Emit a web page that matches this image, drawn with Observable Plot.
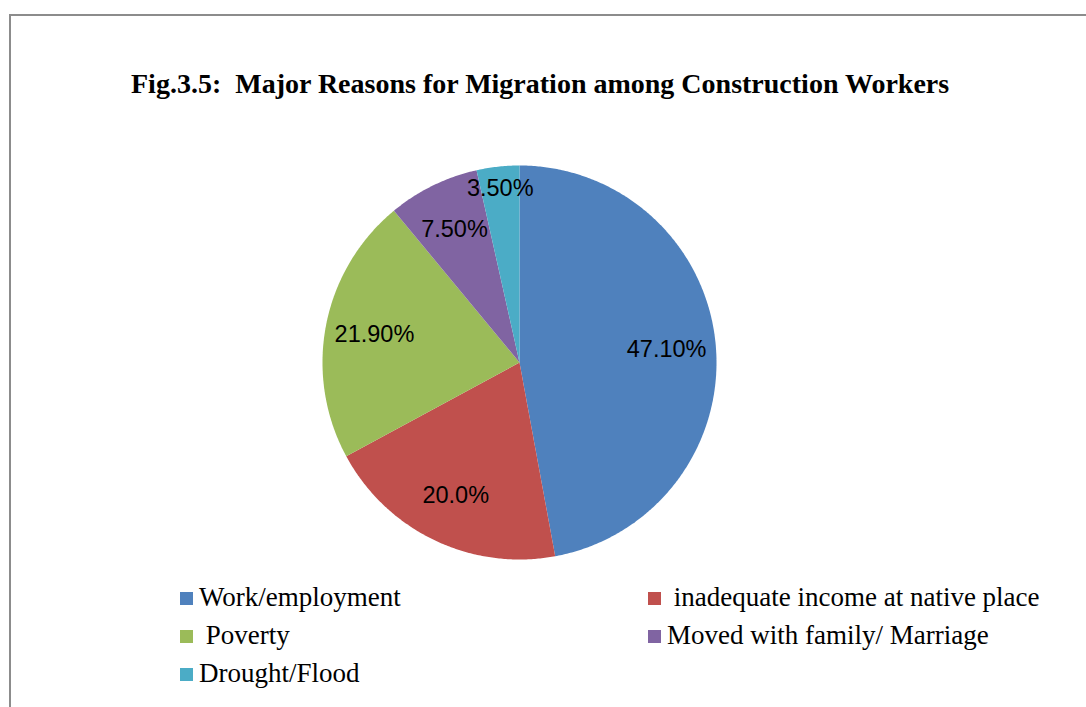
<!DOCTYPE html>
<html>
<head>
<meta charset="utf-8">
<script src="https://cdn.jsdelivr.net/npm/d3@7"></script>
<script src="https://cdn.jsdelivr.net/npm/@observablehq/plot@0.6"></script>
<style>
  html, body { margin: 0; padding: 0; background: #fff; overflow: hidden; width: 1086px; height: 707px; }
  #frame { position: absolute; left: 9px; top: 14px; width: 1200px; height: 900px; border: 2px solid #8c8c8c; box-sizing: border-box; }
  #title { position: absolute; left: 131px; top: 70px; font-family: "Liberation Serif", "Times New Roman", serif; font-weight: bold; font-size: 28px; line-height: 28px; white-space: pre; color: #000; }
  #chart { position: absolute; left: 0; top: 130px; }
  .leg { position: absolute; font-family: "Liberation Serif", "Times New Roman", serif; font-size: 27px; line-height: 27px; white-space: pre; color: #000; }
  .sw { position: absolute; width: 13px; height: 13px; }
</style>
</head>
<body>
<div id="frame"></div>
<div id="title">Fig.3.5:  Major Reasons for Migration among Construction Workers</div>
<div id="chart"></div>
<div id="legend"></div>
<script>
const categories = ["Work/employment", "inadequate income at native place", "Poverty", "Moved with family/ Marriage", "Drought/Flood"];
const legendLabels = ["Work/employment", " inadequate income at native place", " Poverty", "Moved with family/ Marriage", "Drought/Flood"];
const values = [47.1, 20.0, 21.9, 7.5, 3.5];
const valueLabels = ["47.10%", "20.0%", "21.90%", "7.50%", "3.50%"];
const colors = ["#4F81BD", "#C0504D", "#9BBB59", "#8064A2", "#4BACC6"];

const rows = categories.map((c, i) => ({cat: c, value: values[i], label: valueLabels[i]}));
const arcs = d3.pie().sort(null).value(d => d.value)(rows);

// slice outlines (unit circle, angle measured clockwise from top)
const pts = [];
for (const a of arcs) {
  pts.push({cat: a.data.cat, x: 0, y: 0});
  const n = Math.max(2, Math.ceil((a.endAngle - a.startAngle) / (Math.PI / 360)));
  for (let k = 0; k <= n; k++) {
    const t = a.startAngle + (a.endAngle - a.startAngle) * k / n;
    pts.push({cat: a.data.cat, x: Math.sin(t), y: Math.cos(t)});
  }
}
const labels = arcs.map(a => {
  const m = (a.startAngle + a.endAngle) / 2;
  const f = a.data.value < 5 ? 0.89 : 0.75;
  return {label: a.data.label, x: f * Math.sin(m), y: f * Math.cos(m)};
});

const cx = 519, cy = 232, r = 197;
const plot = Plot.plot({
  width: 1086,
  height: 450,
  margin: 0,
  x: {domain: [-1, 1], range: [cx - r, cx + r], axis: null},
  y: {domain: [-1, 1], range: [cy + r, cy - r], axis: null},
  color: {domain: categories, range: colors},
  style: {background: "transparent"},
  marks: [
    Plot.line(pts, {x: "x", y: "y", z: "cat", fill: "cat", stroke: "none", curve: "linear-closed"}),
    Plot.text(labels, {x: "x", y: "y", text: "label", fontSize: 23.5, fill: "#000",
      fontFamily: "'Liberation Sans', Arial, sans-serif"})
  ]
});
document.getElementById("chart").appendChild(plot);

// legend built from the same arrays
const legend = document.getElementById("legend");
const colX = [180, 648];
const rowY = [607, 645, 683];
legendLabels.forEach((lab, i) => {
  const col = i % 2, row = Math.floor(i / 2);
  const sw = document.createElement("div");
  sw.className = "sw";
  sw.style.left = colX[col] + "px";
  sw.style.top = (rowY[row] - 15) + "px";
  sw.style.background = colors[i];
  legend.appendChild(sw);
  const t = document.createElement("div");
  t.className = "leg";
  t.textContent = lab;
  t.style.left = (colX[col] + 19) + "px";
  t.style.top = (rowY[row] - 23) + "px";
  legend.appendChild(t);
});
</script>
</body>
</html>
